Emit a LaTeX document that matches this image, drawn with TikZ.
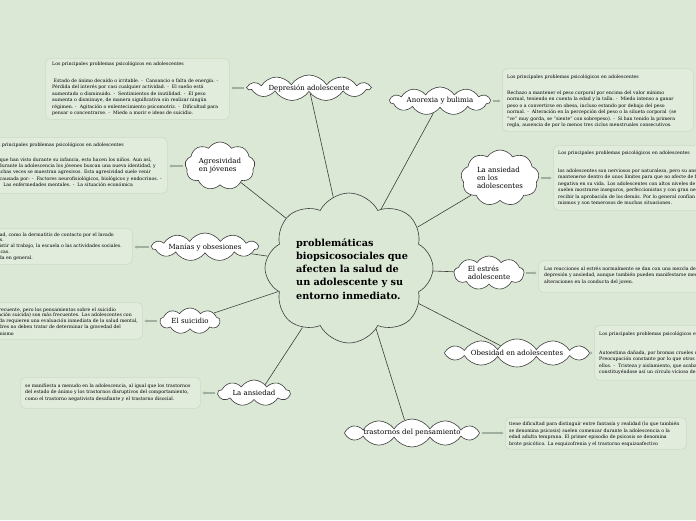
\documentclass[tikz,border=0pt]{standalone}
\usepackage{fontspec}
\setmainfont{DejaVu Serif}
\usetikzlibrary{shapes.symbols,arrows.meta,calc}

\definecolor{bg}{RGB}{220,232,214}
\definecolor{boxfill}{RGB}{226,236,221}
\definecolor{boxline}{RGB}{209,223,203}
\definecolor{conn}{RGB}{60,60,60}
\definecolor{pointerc}{RGB}{160,176,160}

\tikzset{
  cloudnode/.style={cloud, cloud puffs=11, cloud puff arc=115, cloud ignores aspect,
    draw=conn, fill=white, line width=0.6pt, inner sep=0pt},
  cloudlabel/.style={font=\fontsize{7}{8.2}\selectfont, align=left, inner sep=0pt},
  infobox/.style={draw=boxline, fill=boxfill, rounded corners=5pt, line width=0.9pt, inner sep=0pt},
  smalltext/.style={font=\fontsize{4.65}{6.4}\selectfont, inner sep=0pt, align=left},
  link/.style={draw=conn, line width=0.6pt},
  pointer/.style={draw=pointerc, line width=1.1pt, shorten <=2pt, shorten >=1.5pt,
    -{Stealth[length=2.5pt,width=3.2pt]}},
}

\begin{document}
\begin{tikzpicture}[x=1pt,y=-1pt]
\useasboundingbox (0,0) rectangle (696,520);
\fill[bg] (0,0) rectangle (696,520);
\clip (0,0) rectangle (696,520);

% ---------- text boxes ----------
% Depresion
\node[infobox, minimum width=184pt, minimum height=61pt, anchor=north west] (depbox) at (45,58) {};
\node[smalltext, anchor=base west] (deptitle) at (52,65) {Los principales problemas psicológicos en adolescentes};
\node[smalltext, anchor=base west] (depbody) at (52,114.5) {\ Estado de ánimo decaído o irritable. - \ Cansancio o falta de energía. -\\
Pérdida del interés por casi cualquier actividad. - \ El sueño está\\
aumentado o disminuido. - \ Sentimientos de inutilidad. - \ El peso\\
aumenta o disminuye, de manera significativa sin realizar ningún\\
régimen. - \ Agitación o enlentecimiento psicomotriz. - \ Dificultad para\\
pensar o concentrarse. - \ Miedo a morir e ideas de suicidio.};

% Agresividad (cut at left)
\node[infobox, minimum width=187pt, minimum height=56pt, anchor=north west] (agrbox) at (-20,137) {};
\node[smalltext, anchor=base east] (agrtitle) at (124,146) {Los principales problemas psicológicos en adolescentes};
\node[smalltext, anchor=base east] (agr1) at (152,161) {lo que han visto durante su infancia, esto hacen los niños. Aun así,};
\node[smalltext, anchor=base east] (agr2) at (156,167.4) {durante la adolescencia los jóvenes buscan una nueva identidad, y};
\node[smalltext, anchor=base east] (agr3) at (151,173.8) {muchas veces se muestran agresivos. Esta agresividad suele venir};
\node[smalltext, anchor=base east] (agr4) at (162,180.2) {causada por: - \ Factores neurofisiológicos, biológicos y endocrinos. -};
\node[smalltext, anchor=base east] (agr5) at (133,186.6) {Las enfermedades mentales. - \ La situación económica};

% Manias (cut at left)
\node[infobox, minimum width=152pt, minimum height=36pt, anchor=north west] (manbox) at (-20,228) {};
\node[smalltext, anchor=base east] (man1) at (114,236) {suciedad, como la dermatitis de contacto por el lavado};
\node[smalltext, anchor=base east] (man2) at (4,241.5) {de manos.};
\node[smalltext, anchor=base east] (man3) at (122,247.5) {asistir al trabajo, la escuela o las actividades sociales.};
\node[smalltext, anchor=base east] (man4) at (10,253) {traumáticas.};
\node[smalltext, anchor=base east] (man5) at (33,259) {de vida en general.};

% Suicidio (cut at left)
\node[infobox, minimum width=162pt, minimum height=37pt, anchor=north west] (suibox) at (-20,302) {};
\node[smalltext, anchor=base east] (sui1) at (116,311) {frecuente, pero los pensamientos sobre el suicidio};
\node[smalltext, anchor=base east] (sui2) at (132,316.5) {(ideación suicida) son más frecuentes. Los adolescentes con};
\node[smalltext, anchor=base east] (sui3) at (138,322.5) {ideación suicida requieren una evaluación inmediata de la salud mental,};
\node[smalltext, anchor=base east] (sui4) at (121,328) {padres no deben tratar de determinar la gravedad del};
\node[smalltext, anchor=base east] (sui5) at (14,335) {sí mismo};

% La ansiedad (bottom left)
\node[infobox, minimum width=180pt, minimum height=31pt, anchor=north west] (ansbox) at (20,377) {};
\node[smalltext, anchor=base west] (ansbody) at (25,400.3) {se manifiesta a menudo en la adolescencia, al igual que los trastornos\\
del estado de ánimo y los trastornos disruptivos del comportamiento,\\
como el trastorno negativista desafiante y el trastorno disocial.};

% Anorexia
\node[infobox, minimum width=191pt, minimum height=63pt, anchor=north west] (anobox) at (502,68) {};
\node[smalltext, anchor=base west] (anotitle) at (507,78) {Los principales problemas psicológicos en adolescentes};
\node[smalltext, anchor=base west] (anobody) at (507,126.5) {Rechazo a mantener el peso corporal por encima del valor mínimo\\
normal, teniendo en cuenta la edad y la talla. - \ Miedo intenso a ganar\\
peso o a convertirse en obesa, incluso estando por debajo del peso\\
normal. - \ Alteración en la percepción del peso o la silueta corporal \ (se\\
"ve" muy gorda, se "siente" con sobrepeso). - \ Si han tenido la primera\\
regla, ausencia de por lo menos tres ciclos menstruales consecutivos.};

% Ansiedad en adolescentes (cut at right)
\node[infobox, minimum width=160pt, minimum height=65pt, anchor=north west] (adobox) at (553,145) {};
\node[smalltext, anchor=base west] (adotitle) at (558,154) {Los principales problemas psicológicos en adolescentes};
\node[smalltext, anchor=base west] (adobody) at (558,204.5) {los adolescentes son nerviosos por naturaleza, pero su ansiedad debe\\
mantenerse dentro de unos límites para que no afecte de forma\\
negativa en su vida. Los adolescentes con altos niveles de ansiedad\\
suelen mostrarse inseguros, perfeccionistas y con gran necesidad de\\
recibir la aprobación de los demás. Por lo general confían poco en sí\\
mismos y son temerosos de muchas situaciones.};

% Estres (cut at right)
\node[infobox, minimum width=170pt, minimum height=32pt, anchor=north west] (estbox) at (538,260) {};
\node[smalltext, anchor=base west] (estbody) at (544,283) {Las reacciones al estrés normalmente se dan con una mezcla de\\
depresión y ansiedad, aunque también pueden manifestarse mediante\\
alteraciones en la conducta del joven.};

% Obesidad (cut at right)
\node[infobox, minimum width=120pt, minimum height=55pt, anchor=north west] (obebox) at (594,325) {};
\node[smalltext, anchor=base west] (obetitle) at (599,335) {Los principales problemas psicológicos en adolescentes};
\node[smalltext, anchor=base west] (obebody) at (599,373.5) {Autoestima dañada, por bromas crueles de sus compañeros. -\\
Preocupación constante por lo que otros piensen de\\
ellos. - \ Tristeza y aislamiento, que acaban\\
constituyéndose así un círculo vicioso de};

% Trastornos
\node[infobox, minimum width=181pt, minimum height=32pt, anchor=north west] (trabox) at (505,417) {};
\node[smalltext, anchor=base west] (trabody) at (509,445) {tiene dificultad para distinguir entre fantasía y realidad (lo que también\\
se denomina psicosis) suelen comenzar durante la adolescencia o la\\
edad adulta temprana. El primer episodio de psicosis se denomina\\
brote psicótico. La esquizofrenia y el trastorno esquizoafectivo};

% ---------- central cloud ----------
\node[cloudnode, cloud puffs=8, cloud puff arc=125, fill=bg, minimum width=168pt, minimum height=150pt] (main) at (349,268) {};
\node[font=\bfseries\fontsize{9.7}{13.2}\selectfont, align=left, inner sep=0pt, anchor=base west] (maintext) at (296,299)
  {problemáticas\\biopsicosociales que\\afecten la salud de\\un adolescente y su\\entorno inmediato.};

% ---------- topic clouds ----------
\node[cloudnode, minimum width=122pt, minimum height=26pt] (dep) at (309,88) {};
\node[cloudlabel] (deplabel) at (dep) {Depresión adolescente};

\node[cloudnode, minimum width=100pt, minimum height=28pt] (ano) at (440,101) {};
\node[cloudlabel] (anolabel) at (ano) {Anorexia y bulimia};

\node[cloudnode, cloud puffs=9, minimum width=78pt, minimum height=56pt] (ado) at (500,178) {};
\node[cloudlabel] (adolabel) at (ado) {La ansiedad\\en los\\adolescentes};

\node[cloudnode, cloud puffs=9, minimum width=70pt, minimum height=48pt] (agr) at (220,166) {};
\node[cloudlabel] (agrlabel) at (agr) {Agresividad\\en jóvenes};

\node[cloudnode, minimum width=106pt, minimum height=28pt] (man) at (205,247) {};
\node[cloudlabel] (manlabel) at (man) {Manías y obsesiones};

\node[cloudnode, cloud puffs=9, minimum width=70pt, minimum height=34pt] (est) at (489,273) {};
\node[cloudlabel] (estlabel) at (est) {El estrés\\adolescente};

\node[cloudnode, cloud puffs=9, minimum width=60pt, minimum height=26pt] (sui) at (190,321) {};
\node[cloudlabel] (suilabel) at (sui) {El suicidio};

\node[cloudnode, cloud puffs=12, minimum width=145pt, minimum height=28pt] (obe) at (517,353) {};
\node[cloudlabel] (obelabel) at (obe) {Obesidad en adolescentes};

\node[cloudnode, cloud puffs=9, minimum width=72pt, minimum height=26pt] (ans) at (254,393) {};
\node[cloudlabel] (anslabel) at (ans) {La ansiedad};

\node[cloudnode, cloud puffs=12, minimum width=135pt, minimum height=28pt] (tra) at (412,433) {};
\node[cloudlabel] (tralabel) at (tra) {trastornos del pensamiento};

% ---------- connectors ----------
\draw[link] (main) -- (dep);
\draw[link] (main) -- (ano);
\draw[link] (main) -- (ado);
\draw[link] (main) -- (agr);
\draw[link] (main) -- (man);
\draw[link] (main) -- (est);
\draw[link] (main) -- (sui);
\draw[link] (main.-27) -- (obe.156);
\draw[link] (main.232) -- (ans.37);
\draw[link] (main.294) -- (tra.120);

% ---------- pointers to text boxes ----------
\draw[pointer] (dep.west) -- (depbox.east |- dep.west);
\draw[pointer] (agr.west) -- (agrbox.east |- agr.west);
\draw[pointer] (man.west) -- (manbox.east |- man.west);
\draw[pointer] (sui.west) -- (suibox.east |- sui.west);
\draw[pointer] (ans.west) -- (ansbox.east |- ans.west);
\draw[pointer] (ano.east) -- (anobox.west |- ano.east);
\draw[pointer] (ado.east) -- (adobox.west |- ado.east);
\draw[pointer] (est.east) -- (estbox.west |- est.east);
\draw[pointer] (obe.east) -- (obebox.west |- obe.east);
\draw[pointer] (tra.east) -- (trabox.west |- tra.east);
\end{tikzpicture}
\end{document}
